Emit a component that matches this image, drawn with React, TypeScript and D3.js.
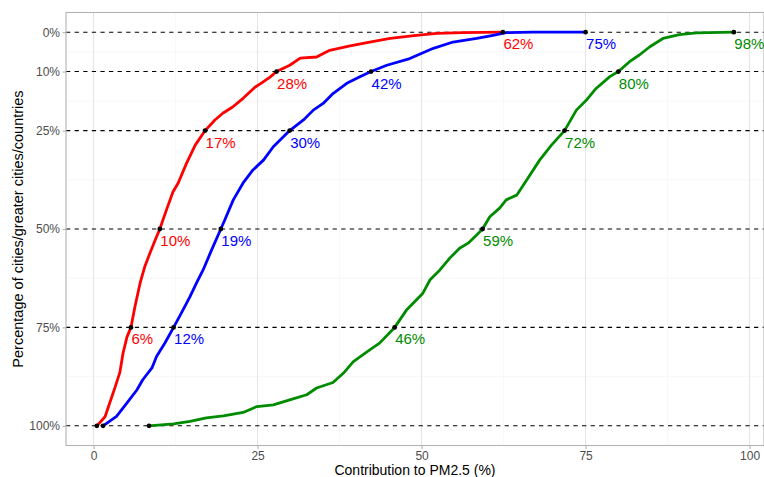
import React, { useEffect, useRef } from "react";
import * as d3 from "d3";

// curves: [contribution %, percentage of places]
const redCurve = [
  [0.5, 100], [1.75, 97.7], [3.3, 90.1], [4.0, 86.5], [4.5, 81.5], [5.1, 77.4], [5.7, 75],
  [6.3, 69.8], [7.1, 63.7], [7.8, 59.6], [8.6, 56.1], [9.4, 52.8], [10.1, 50], [11.1, 45.2],
  [12.1, 40.6], [12.9, 38.3], [14.2, 33.2], [15.5, 28.7], [17.0, 25], [18.5, 22.3], [19.7, 20.6],
  [21.2, 19.0], [22.8, 16.8], [24.6, 14.0], [25.8, 12.7], [26.9, 11.4], [27.9, 10], [29.9, 8.4],
  [31.5, 6.6], [34.0, 6.3], [36.0, 4.6], [39.1, 3.5], [42.1, 2.5], [45.2, 1.6], [49.2, 0.8],
  [52.3, 0.3], [56.3, 0.1], [62.4, 0],
];

const blueCurve = [
  [1.45, 100], [3.5, 97.6], [5.1, 94.2], [6.6, 90.9], [7.5, 88.3], [8.9, 85.3], [9.6, 82.4],
  [10.9, 78.9], [12.2, 75], [13.4, 71.3], [14.7, 67.2], [15.7, 63.7], [16.7, 60.4], [18.0, 55.3],
  [19.4, 50], [20.0, 47.7], [21.3, 42.6], [22.8, 38.3], [24.3, 35.0], [25.9, 32.5], [27.4, 29.1],
  [29.9, 25], [32.0, 22.3], [33.5, 19.8], [35.0, 18.1], [36.5, 15.6], [38.6, 13.0], [40.6, 11.3],
  [42.3, 10], [44.7, 8.4], [48.2, 6.7], [51.8, 4.1], [54.8, 2.5], [58.4, 1.6], [60.9, 0.8],
  [62.9, 0.1], [66.9, 0], [75.0, 0],
];

const greenCurve = [
  [8.45, 100], [12.2, 99.5], [14.7, 98.9], [17.2, 98.0], [19.8, 97.5], [22.8, 96.6], [24.9, 95.1],
  [27.4, 94.7], [29.9, 93.4], [32.5, 92.1], [34.0, 90.4], [36.5, 89.0], [38.1, 86.6], [39.6, 83.7],
  [42.1, 80.7], [43.6, 79.0], [45.9, 75], [47.7, 70.6], [50.2, 66.3], [51.3, 62.9], [52.8, 60.4],
  [54.3, 57.4], [55.8, 54.9], [57.1, 53.6], [58.4, 51.5], [59.3, 50], [60.4, 46.9], [61.9, 44.7],
  [62.9, 42.6], [64.5, 41.4], [66.0, 37.6], [68.0, 32.5], [69.8, 28.7], [71.8, 25], [73.6, 19.8],
  [75.1, 17.3], [76.6, 14.3], [78.7, 11.3], [80.0, 10], [81.7, 7.5], [83.2, 5.8], [84.8, 3.7],
  [86.8, 1.6], [89.3, 0.6], [91.9, 0.2], [97.6, 0],
];

// quantile markers
const markPcts = [100, 75, 50, 25, 10, 0];
const redMarks = [0.5, 5.7, 10.1, 17.0, 27.9, 62.4];
const blueMarks = [1.45, 12.2, 19.4, 29.9, 42.3, 75.0];
const greenMarks = [8.45, 45.9, 59.3, 71.8, 80.0, 97.6];

const xTicks = [0, 25, 50, 75, 100];
const xMinor = [12.5, 37.5, 62.5, 87.5];
const yTicks = [0, 10, 25, 50, 75, 100];
const yMinor = [5, 17.5, 37.5, 62.5, 87.5];

const series = [
  { curve: redCurve, marks: redMarks, color: "#ff0000" },
  { curve: blueCurve, marks: blueMarks, color: "#0000ff" },
  { curve: greenCurve, marks: greenMarks, color: "#008b00" },
];

const W = 764;
const H = 477;
const FONT = "'Liberation Sans', Arial, sans-serif";

export default function App() {
  const svgRef = useRef<SVGSVGElement>(null);

  useEffect(() => {
    const left = 66, right = 764, top = 12.5, bottom = 445.5;

    const svg = d3.select(svgRef.current);
    svg.selectAll("*").remove();

    const x = d3.scaleLinear().domain([-4.2, 102.2]).range([left, right]);
    const y = d3.scaleLinear().domain([-5, 105]).range([top, bottom]);

    svg.append("rect")
      .attr("width", W).attr("height", H).attr("fill", "white");

    // grid
    const grid = svg.append("g");
    grid.selectAll(".xmin").data(xMinor).join("line")
      .attr("x1", (d) => x(d)).attr("x2", (d) => x(d))
      .attr("y1", top).attr("y2", bottom)
      .attr("stroke", "#f2f2f2").attr("stroke-width", 0.6);
    grid.selectAll(".ymin").data(yMinor).join("line")
      .attr("y1", (d) => y(d)).attr("y2", (d) => y(d))
      .attr("x1", left).attr("x2", right)
      .attr("stroke", "#f2f2f2").attr("stroke-width", 0.6);
    grid.selectAll(".xmaj").data(xTicks).join("line")
      .attr("x1", (d) => x(d)).attr("x2", (d) => x(d))
      .attr("y1", top).attr("y2", bottom)
      .attr("stroke", "#e4e4e4").attr("stroke-width", 1);

    // dashed reference lines
    svg.append("g").selectAll("line").data(yTicks).join("line")
      .attr("x1", left).attr("x2", right)
      .attr("y1", (d) => y(d)).attr("y2", (d) => y(d))
      .attr("stroke", "#000").attr("stroke-width", 1.1)
      .attr("stroke-dasharray", "4.3,4.3");

    // panel border
    svg.append("rect")
      .attr("x", left).attr("y", top)
      .attr("width", right - left).attr("height", bottom - top)
      .attr("fill", "none").attr("stroke", "#b3b3b3").attr("stroke-width", 1.1);

    const line = d3.line<number[]>().x((d) => x(d[0])).y((d) => y(d[1]));

    series.forEach((s) => {
      svg.append("path")
        .attr("d", line(s.curve))
        .attr("fill", "none")
        .attr("stroke", s.color)
        .attr("stroke-width", 2.8)
        .attr("stroke-linejoin", "round");
    });

    series.forEach((s) => {
      svg.append("g").selectAll("circle").data(s.marks).join("circle")
        .attr("cx", (d) => x(d))
        .attr("cy", (d, i) => y(markPcts[i]))
        .attr("r", 2.4)
        .attr("fill", "#000");

      svg.append("g").selectAll("text")
        .data(s.marks.map((v, i) => ({ v, p: markPcts[i] })).filter((d) => d.p < 100))
        .join("text")
        .attr("x", (d) => x(d.v) + 0.5)
        .attr("y", (d) => y(d.p) + 17)
        .attr("fill", s.color)
        .attr("font-family", FONT)
        .attr("font-size", 15)
        .text((d) => `${Math.round(d.v)}%`);
    });

    // axes
    const yAxis = svg.append("g")
      .attr("transform", `translate(${left},0)`)
      .call(d3.axisLeft(y).tickValues(yTicks).tickFormat((d) => `${d}%`).tickSize(3.5).tickPadding(2.5));
    const xAxis = svg.append("g")
      .attr("transform", `translate(0,${bottom})`)
      .call(d3.axisBottom(x).tickValues(xTicks).tickSize(3.5).tickPadding(2));

    [yAxis, xAxis].forEach((a) => {
      a.select(".domain").remove();
      a.selectAll("line").attr("stroke", "#b3b3b3").attr("stroke-width", 1.1);
      a.selectAll("text")
        .attr("fill", "#4d4d4d")
        .attr("font-family", FONT)
        .attr("font-size", 12);
    });

    svg.append("text")
      .attr("x", (left + right) / 2)
      .attr("y", 474.5)
      .attr("text-anchor", "middle")
      .attr("font-family", FONT)
      .attr("font-size", 14)
      .attr("fill", "#000")
      .text("Contribution to PM2.5 (%)");

    svg.append("text")
      .attr("transform", `translate(23,${(top + bottom) / 2}) rotate(-90)`)
      .attr("text-anchor", "middle")
      .attr("font-family", FONT)
      .attr("font-size", 14.5)
      .attr("fill", "#000")
      .text("Percentage of cities/greater cities/countries");
  }, []);

  return (
    <div>
      <svg
        ref={svgRef}
        width={W}
        height={H}
        style={{ position: "absolute", left: 0, top: 0, display: "block" }}
      />
    </div>
  );
}
